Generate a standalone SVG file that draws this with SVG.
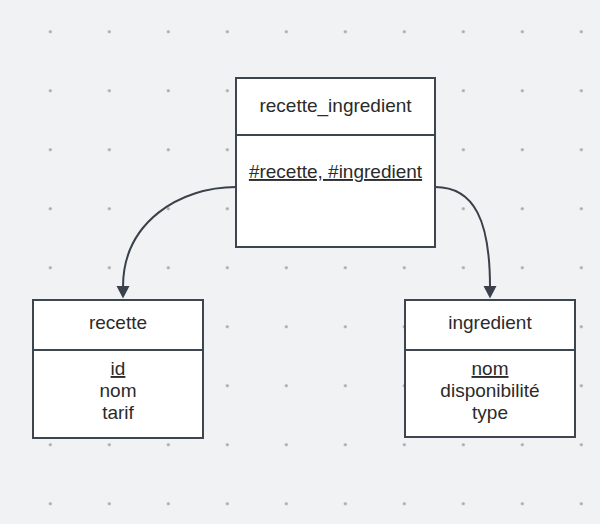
<svg xmlns="http://www.w3.org/2000/svg" width="600" height="524" viewBox="0 0 600 524">
<defs>
<pattern id="dots" x="20.8" y="2.2" width="59" height="59" patternUnits="userSpaceOnUse">
<circle cx="29.5" cy="29.5" r="1.6" fill="#a8aaae"/>
</pattern>
<style>
.box{fill:#ffffff;stroke:#3d4550;stroke-width:2}
.div{stroke:#3d4550;stroke-width:2}
.t{font-family:"Liberation Sans",Arial,sans-serif;font-size:19px;fill:#2b2b2b;text-anchor:middle}
.u{text-decoration:underline}
.conn{fill:none;stroke:#3a414a;stroke-width:2}
.head{fill:#3a414a}
</style>
</defs>
<rect width="600" height="524" fill="#f1f2f4"/>
<rect width="600" height="524" fill="url(#dots)"/>
<g id="connectors">
<path class="conn" d="M236,187 C180,187 123,222 123,287"/>
<path class="head" d="M116.5,286 L129.5,286 L123,298.5 Z"/>
<path class="conn" d="M435,187 C475,187 490,222 490,287"/>
<path class="head" d="M483.5,286 L496.5,286 L490,298.5 Z"/>
</g>
<g id="recette_ingredient">
<rect class="box" x="236" y="78" width="199" height="169"/>
<line class="div" x1="236" y1="135" x2="435" y2="135"/>
<text class="t" x="335.5" y="111.5">recette_ingredient</text>
<text class="t u" x="335.5" y="178">#recette, #ingredient</text>
</g>
<g id="recette">
<rect class="box" x="33" y="300" width="170" height="138"/>
<line class="div" x1="33" y1="350" x2="203" y2="350"/>
<text class="t" x="118" y="329">recette</text>
<text class="t u" x="118" y="375">id</text>
<text class="t" x="118" y="397">nom</text>
<text class="t" x="118" y="419">tarif</text>
</g>
<g id="ingredient">
<rect class="box" x="405" y="300" width="170" height="137"/>
<line class="div" x1="405" y1="350" x2="575" y2="350"/>
<text class="t" x="490" y="329">ingredient</text>
<text class="t u" x="490" y="375">nom</text>
<text class="t" x="490" y="397">disponibilité</text>
<text class="t" x="490" y="419">type</text>
</g>
</svg>
